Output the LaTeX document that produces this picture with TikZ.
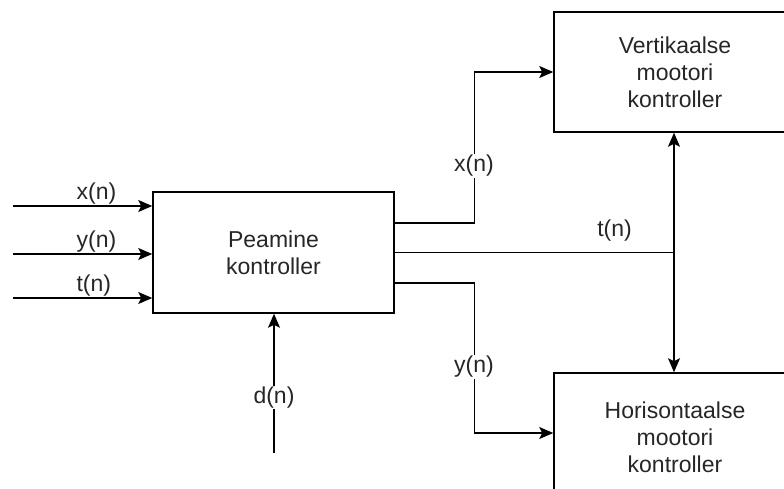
\documentclass[tikz,border=0pt]{standalone}
\usepackage{fontspec}
\setmainfont{Liberation Sans}
\usetikzlibrary{arrows.meta}

\tikzset{
  block/.style={draw, line width=1.5pt, align=center, inner sep=0pt, text=black!85},
  sig/.style={line width=1.4pt, -{Stealth[length=14pt,width=12pt,inset=3pt]}},
  bisig/.style={line width=1.4pt, {Stealth[length=14pt,width=12pt,inset=3pt]}-{Stealth[length=14pt,width=12pt,inset=3pt]}},
  lbl/.style={inner sep=1pt, text=black!85},
}

\begin{document}
\begin{tikzpicture}[x=1pt, y=-1pt, font=\fontsize{23}{27}\selectfont]
  \useasboundingbox (0,0) rectangle (784,488);
  % blocks
  \node[block, minimum width=241pt, minimum height=121pt] (main) at (273.5,252.5) {Peamine\\kontroller};
  \node[block, minimum width=242pt, minimum height=120pt] (vert) at (675,72) {Vertikaalse\\mootori\\kontroller};
  \node[block, minimum width=242pt, minimum height=128pt] (horz) at (675,437) {Horisontaalse\\mootori\\kontroller};

  % inputs
  \coordinate (xin) at (13,206);
  \coordinate (yin) at (13,254);
  \coordinate (tin) at (13,298);
  \coordinate (din) at (274,453);
  \draw[sig] (xin) -- node[lbl, above, pos=0.6] (xlbl) {x(n)} (xin -| main.west);
  \draw[sig] (yin) -- node[lbl, above, pos=0.6] (ylbl) {y(n)} (yin -| main.west);
  \draw[sig] (tin) -- node[lbl, above, pos=0.58] (tlbl) {t(n)} (tin -| main.west);
  \draw[sig] (din) -- node[lbl, fill=white, pos=0.4] (dlbl) {d(n)} (din |- main.south);

  % outputs
  \draw[sig] ([yshift=29.5pt]main.east) -- ++(80,0) coordinate (xk) |- (vert.west);
  \draw[sig] ([yshift=-30.5pt]main.east) -- ++(80,0) coordinate (yk) |- ([yshift=4pt]horz.west);
  \draw[line width=1.4pt] (main.east) -- (674,252.5) coordinate (tj)
    node[lbl, pos=0.787, above=10pt] (tout) {t(n)};
  \draw[bisig] (vert.south -| tj) -- (horz.north -| tj);

  % labels on the bends
  \node[lbl, fill=white] (xout) at (474,166) {x(n)};
  \node[lbl, fill=white] (yout) at (474,367) {y(n)};
\end{tikzpicture}
\end{document}
